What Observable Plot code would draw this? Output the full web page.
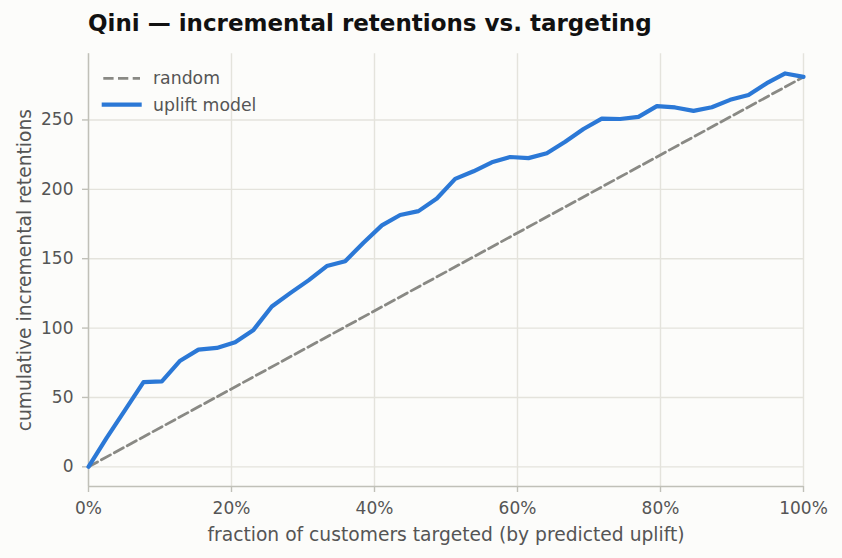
<!DOCTYPE html>
<html>
<head>
<meta charset="utf-8">
<script src="https://cdn.jsdelivr.net/npm/d3@7"></script>
<script src="https://cdn.jsdelivr.net/npm/@observablehq/plot@0.6"></script>
<style>
  html, body { margin: 0; padding: 0; background: #fcfcfa; }
  #wrap { position: relative; width: 842px; height: 558px; font-family: "DejaVu Sans", sans-serif; overflow: hidden; }
  #title { position: absolute; left: 88px; top: 11.5px; font-size: 23px; line-height: 23px; font-weight: bold; color: #111; white-space: nowrap; }
  #chart { position: absolute; left: 0; top: 40px; }
  #legend { position: absolute; left: 0; top: 0; }
  #legend text { font-family: "DejaVu Sans", sans-serif; font-size: 17.3px; fill: #555; }
  g[aria-label="x-axis tick label"], g[aria-label="y-axis tick label"] { font-size: 17px; }
  g[aria-label="x-axis label"], g[aria-label="y-axis label"] { font-size: 18.7px; }
</style>
</head>
<body>
<div id="wrap">
  <div id="title">Qini — incremental retentions vs. targeting</div>
  <div id="chart"></div>
  <svg id="legend" width="260" height="125"></svg>
</div>
<script>
// Share of customers targeted, ranked by predicted uplift (40 cut points).
const fraction = [0, 0.0256, 0.0513, 0.0769, 0.1026, 0.1282, 0.1538, 0.1795, 0.2051, 0.2308,
  0.2564, 0.2821, 0.3077, 0.3333, 0.359, 0.3846, 0.4103, 0.4359, 0.4615, 0.4872,
  0.5128, 0.5385, 0.5641, 0.5897, 0.6154, 0.641, 0.6667, 0.6923, 0.7179, 0.7436,
  0.7692, 0.7949, 0.8205, 0.8462, 0.8718, 0.8974, 0.9231, 0.9487, 0.9744, 1];

// Cumulative incremental retentions when targeting by the uplift model.
const upliftRetentions = [0, 21, 41, 61, 61.6, 76.5, 84.5, 85.7, 89.8, 98.7,
  115.6, 125.2, 134.4, 144.7, 148.2, 161.5, 174, 181.5, 184.3, 193.4,
  207.5, 213, 219.5, 223.3, 222.5, 226, 234.3, 243.5, 251, 250.7,
  252.2, 260, 259, 256.5, 259.2, 264.5, 268, 276.5, 283.5, 281];

// Random targeting: straight line from nothing to the full-population total.
const randomFraction = [0, 1];
const randomRetentions = [0, 281];

const xTicks = [0, 0.2, 0.4, 0.6, 0.8, 1];
const yTicks = [0, 50, 100, 150, 200, 250];

const seriesNames = ["random", "uplift model"];
const seriesColors = ["#898984", "#2b78d6"];

const uplift = fraction.map((f, i) => ({f, v: upliftRetentions[i]}));
const random = randomFraction.map((f, i) => ({f, v: randomRetentions[i]}));

const yPad = 0.05 * d3.max(upliftRetentions);
const yDomain = [-yPad, d3.max(upliftRetentions) + yPad];

const axisColor = "#c0c0b8";
const gridColor = "#e4e3dc";

const chart = Plot.plot({
  width: 842,
  height: 518,
  marginTop: 13.3,
  marginRight: 39,
  marginBottom: 72,
  marginLeft: 88,
  style: {background: "transparent", fontFamily: "DejaVu Sans, sans-serif", fontSize: "16px", color: "#555", overflow: "visible"},
  x: {domain: [0, 1], ticks: xTicks, tickFormat: d3.format(".0%")},
  y: {domain: yDomain, ticks: yTicks},
  marks: [
    Plot.gridX({ticks: xTicks, stroke: gridColor, strokeOpacity: 1, strokeWidth: 1.4}),
    Plot.gridY({ticks: yTicks, stroke: gridColor, strokeOpacity: 1, strokeWidth: 1.4}),
    Plot.ruleX([0], {stroke: axisColor, strokeWidth: 1.4}),
    Plot.ruleY([yDomain[0]], {stroke: axisColor, strokeWidth: 1.4}),
    Plot.axisX({
      ticks: xTicks, tickFormat: d3.format(".0%"), tickSize: 6, tickPadding: 9,
      stroke: axisColor, strokeWidth: 1.4, fill: "#555",
      label: "fraction of customers targeted (by predicted uplift)",
      labelAnchor: "center", labelArrow: "none", labelOffset: 54
    }),
    Plot.axisY({
      ticks: yTicks, tickSize: 6, tickPadding: 9,
      stroke: axisColor, strokeWidth: 1.4, fill: "#555",
      label: "cumulative incremental retentions",
      labelAnchor: "center", labelArrow: "none", labelOffset: 71
    }),
    Plot.line(random, {x: "f", y: "v", stroke: seriesColors[0], strokeWidth: 2.8, strokeDasharray: "10.3,4.4"}),
    Plot.line(uplift, {x: "f", y: "v", stroke: seriesColors[1], strokeWidth: 4.2, strokeLinejoin: "round"})
  ]
});
document.getElementById("chart").appendChild(chart);

// Legend in the upper-left corner of the plot area.
const legend = d3.select("#legend");
const rows = [
  {name: seriesNames[0], color: seriesColors[0], width: 2.8, dash: "10.3,4.4", y: 78.3, x1: 103.3, x2: 140, ty: 84.3},
  {name: seriesNames[1], color: seriesColors[1], width: 4.2, dash: null, y: 104.7, x1: 101.7, x2: 141.7, ty: 111}
];
for (const r of rows) {
  legend.append("line")
    .attr("x1", r.x1).attr("x2", r.x2).attr("y1", r.y).attr("y2", r.y)
    .attr("stroke", r.color).attr("stroke-width", r.width)
    .attr("stroke-dasharray", r.dash);
  legend.append("text").attr("x", 153).attr("y", r.ty).text(r.name);
}
</script>
</body>
</html>
